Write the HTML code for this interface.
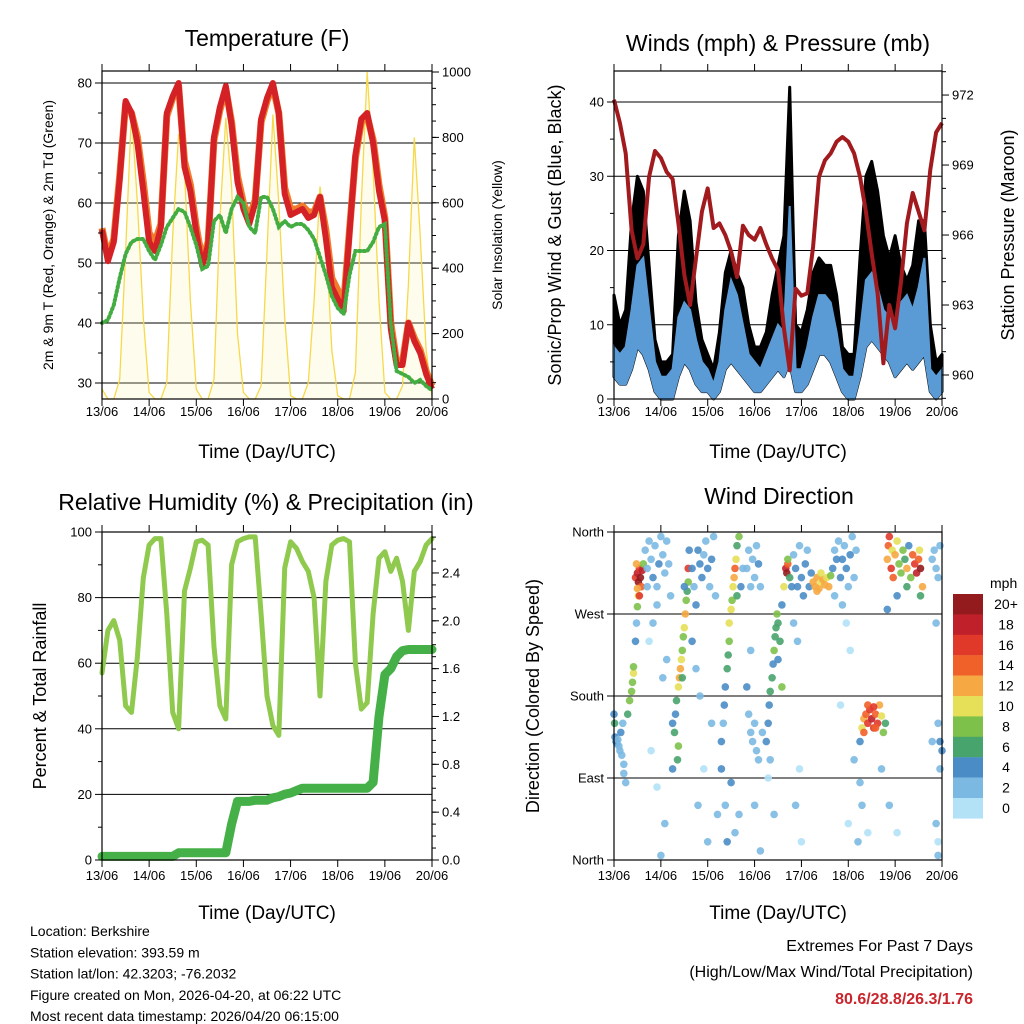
<!DOCTYPE html>
<html><head><meta charset="utf-8"><style>
body{margin:0;background:#fff;}
svg{display:block;font-family:"Liberation Sans",Arial,sans-serif;}
</style></head><body>
<svg id="c" width="1024" height="1024" viewBox="0 0 1024 1024"></svg>
<script>
// ---------- data (3-hourly, 13/06 00 UTC to 20/06 00 UTC) ----------
const dayLabels=["13/06","14/06","15/06","16/06","17/06","18/06","19/06","20/06"];
const temp2m=[55.5,50.3,53.5,64,77,75,70,62,53.5,52,56,75,77.8,80,66,62,55,49.5,53,71,76,79.5,73,63.5,59,56.5,60,74,77.5,80,75,61.5,58,58.5,59,57.5,58,61,54,46,44,42,55,68,74,75,70,62,57,39,33,33,40,37,35,31.5,29];
const temp9m=[55.8,51,54,64.5,76.5,75,71,63.5,55,53.5,56.5,74.5,77.5,79.5,67,63,56,50.5,53.5,70.5,75.5,79,73.5,64.5,60,57.5,60.5,73.5,77,79.5,75,62.5,59,59,59.5,58.5,58.5,61,55.5,47.5,45.5,43,55.5,67.5,73.5,74.5,70.5,63,57.5,40,33.5,33.5,40,37.5,35.5,32,29.5];
const dewpoint=[40,40.5,43,47.5,51.5,53.5,54,54,52,50.5,53,56,57.5,59,58.5,56,53,49,49.5,57,58,55,59,61,60,56,55,61,61,59,56,57,56,56.5,56.5,55.5,54,51,48,44.5,42.5,41.5,48,52,52,52,53.5,56,56.5,40,32,31.5,31,30,30.5,29.5,28.8];
const solar=[30,0,0,60,450,880,600,250,20,0,0,50,500,810,700,300,30,0,0,60,550,860,650,200,20,0,0,40,450,870,600,250,10,0,0,50,300,650,500,150,10,0,0,80,600,1000,700,300,20,0,0,40,350,800,500,150,10];
const windLow=[3,2,2,4,7,6,4,1,0,0,0,3,5,4,2,1,1,0,1,4,5,4,3,2,1,1,2,3,4,3,5,1,1,2,4,6,6,5,3,1,0,0,3,7,8,7,6,5,3,4,5,4,5,6,1,0,1];
const windHigh=[7,6,7,12,18,19,12,5,3,3,4,11,13,12,8,5,4,2,5,12,16,14,10,6,5,4,6,8,10,9,26,4,4,7,11,14,14,13,9,4,3,3,9,16,17,15,12,11,10,13,14,12,15,19,4,3,4];
const gust=[14,10,12,24,30,28,18,8,5,5,6,22,28,24,13,8,6,4,9,17,20,17,15,10,7,7,9,14,18,22,42,10,9,12,17,19,18,18,14,7,6,6,19,30,32,28,22,19,22,18,16,18,24,24,10,5,6];
const pressure=[971.8,970.8,969.5,966.2,965,965.6,968.5,969.6,969.3,968.7,968.4,966.5,964.3,963,965,967,968,966.3,966.5,966,965.3,964.2,966.4,966,965.8,966.3,965.6,965,964.5,962,960.2,963.7,963.4,963.5,965.5,968.5,969.2,969.5,970,970.2,970,969.5,968.5,967,965.2,963.5,960.5,963,962,964,966.5,967.8,967,966.2,968.8,970.4,970.8];
const humidity=[57,70,73,67,47,45,62,86,96,98,98,75,45,40,82,89,97,97.5,96,65,47,43,90,97,98,98.5,98.5,75,50,41,38,89,97,95,91,88,80,50,85,96,97.5,98,97,60,46,48,75,92,94,88,92,85,70,88,91,96,98];
const rainTotal=[0.03,0.03,0.03,0.03,0.03,0.03,0.03,0.03,0.03,0.03,0.03,0.03,0.03,0.06,0.06,0.06,0.06,0.06,0.06,0.06,0.06,0.06,0.3,0.49,0.49,0.49,0.5,0.5,0.5,0.52,0.53,0.55,0.56,0.58,0.6,0.6,0.6,0.6,0.6,0.6,0.6,0.6,0.6,0.6,0.6,0.6,0.65,1.2,1.55,1.6,1.7,1.75,1.76,1.76,1.76,1.76,1.76];
// wind direction obs: hour, degrees, speed
const dirObs=[[0,160,5],[0.3,150,6],[0.5,135,4],[1,130,4],[1.5,128,4],[2,132,3],[2.5,125,3],[3,120,3],[4,115,2],[5,105,2],[5,95,2],[6,85,2],[3.5,140,4],[4.5,150,3],
[7,160,7],[8,175,8],[9,185,8],[9.5,195,9],[10,205,10],[10,212,9],[11,240,4],[12,278,9],[12.5,290,10],[11.5,260,3],
[11,310,16],[12,315,18],[12.5,305,20],[13,320,16],[13.5,310,20],[14,300,14],[14.5,318,18],[12,298,12],[15,325,8],[13,290,16],[11.5,325,12],
[16,340,3],[17,320,2],[18,350,2],[19,330,3],[20,310,4],[21,345,2],[22,300,2],[23,325,4],[24,355,2],[25,335,3],[26,315,2],[27,350,2],[28,325,3],[29,290,2],[17,300,2],[22,280,2],[20,260,2],[18,240,1],[27,220,3],[25,200,2],[19,120,1],[22,80,1],[26,40,3],[24,5,2],
[31,140,6],[31.5,160,4],[32,175,6],[33,190,10],[33.5,200,12],[34,210,12],[34.5,220,10],[35,230,9],[35.5,245,8],[36,255,10],[36.5,270,12],[37,285,8],[37.5,295,6],[38,305,8],[38,320,16],[38.5,340,5],[33,125,8],[32.5,110,6],[30,150,4],[30,100,4],[36,300,5],[35,200,7],
[40,320,4],[41,300,3],[42,280,4],[43,340,4],[44,325,5],[45,310,4],[46,335,3],[47,350,3],[48,320,4],[49,300,3],[50,330,4],[51,355,2],[52,290,2],[40,240,4],[42,210,3],[44,180,2],[46,100,1],[43,60,2],[48,20,2],[50,150,3],[53,50,2],
[55,100,4],[55,130,4],[56,150,3],[56.5,170,4],[57,190,5],[58,210,6],[58.5,225,7],[59,240,8],[59,260,10],[60,275,10],[60.5,285,8],[61,300,10],[61.5,310,12],[62,320,14],[62.5,330,10],[63,345,6],[64,355,8],[63,290,6],[65,300,4],[66,320,3],[57,60,2],[58,20,4],[60,85,4],[62,30,2],[64,50,2],
[68,320,2],[69,340,3],[70,300,2],[71,330,2],[72,310,2],[73,345,2],[74,325,4],[75,300,2],[69,160,3],[70,140,2],[71,130,3],[72,150,3],[73,120,2],[68,190,4],[74,110,3],[76,140,3],[72,60,2],[75,10,2],[70,230,2],
[78,130,4],[79,150,4],[79.5,170,5],[80,185,6],[81,200,6],[81.5,215,5],[82,230,8],[82.5,245,7],[83,255,6],[83.5,270,8],[84,260,6],[85,240,6],[86,280,4],[84,220,5],[80,110,3],[86,190,8],[87,300,10],[79,90,1],[82,50,2],
[88,320,18],[88.5,315,20],[89,325,14],[89,330,8],[90,310,6],[91,300,4],
[92,335,3],[93,320,4],[94,300,4],[95,345,2],[96,310,4],[97,290,4],[98,325,5],[99,340,3],[100,300,4],[101,315,5],[92,260,3],[94,240,2],[93,60,2],[96,20,1],[95,100,1],
[102,305,12],[103,300,12],[104,310,12],[105,298,12],[106,305,10],[107,308,12],[108,302,12],[109,310,10],[110,300,12],[111,312,8],[104,295,12],[106,315,10],
[112,320,4],[113,340,3],[114,330,4],[115,350,3],[116,310,4],[117,330,5],[118,345,3],[119,320,4],[120,300,3],[121,335,4],[122,355,2],[123,310,2],[124,340,3],[113,290,2],[117,280,2],[121,230,1],[119,260,1],[116,170,1],[123,110,2],[120,40,1],[125,20,2],
[126,130,4],[127,145,10],[128,155,12],[129,160,14],[130,150,16],[131,165,16],[132,155,18],[133,145,16],[134,160,14],[135,150,16],[136,170,12],[137,158,10],[138,140,8],[139,150,6],[128,140,14],[130,170,14],[134,145,14],[133,168,16],[126,85,2],[127,60,2],[130,30,1],[137,100,2],
[140,330,12],[140.5,345,14],[141,355,16],[142,320,16],[142.5,340,10],[143,310,14],[144,335,12],[145,350,10],[146,325,8],[147,315,8],[148,340,8],[149,330,6],[150,320,12],[151,345,4],[152,310,8],[153,335,14],[154,325,16],[155,315,18],[156,330,14],[156.5,340,10],[157,320,20],[158,300,12],[157,290,6],[140,275,4],[145,290,5],[150,300,6],[141,60,2],[145,30,1],
[163,330,2],[164,340,3],[165,320,2],[166,310,3],[167,345,2],[165,260,3],[166,150,2],[167,130,4],[168,120,4],[167,100,3],[165,40,2],[166,20,1],[166,5,2],[163,130,2]];
const speedLabels=["0","2","4","6","8","10","12","14","16","18","20+"];
const speedColors=["#b3e2f7","#7cb9e2","#4a8dc6","#48a46d","#7dc14a","#e6df58","#f6a842","#ef6129","#e0392a","#c0202a","#931b1d"];

// ---------- helpers ----------
const NS="http://www.w3.org/2000/svg";
const svg=document.getElementById('c');
function mk(tag,attrs,parent){const e=document.createElementNS(NS,tag);for(const k in attrs)e.setAttribute(k,attrs[k]);(parent||svg).appendChild(e);return e;}
function txt(s,x,y,size,anchor,parent,rot){const t=mk('text',{x:x,y:y,'font-size':size,'text-anchor':anchor||'middle',fill:'#000'},parent);if(rot)t.setAttribute('transform','rotate(-90 '+x+' '+y+')');t.textContent=s;return t;}
function grp(name){const g=mk('g',{});return g;}
const HOURS=168;
function hourOf(i){return i*3;}
function lineD(arr,fx,fy){return arr.map((v,i)=>(i?'L':'M')+fx(hourOf(i)).toFixed(1)+' '+fy(v).toFixed(1)).join(' ');}

function frame(g,x0,x1,y0,y1,labelY){
  const r=mk('rect',{x:x0,y:y0,width:x1-x0,height:y1-y0,fill:'none',stroke:'#000','stroke-width':1.2},g);
  
  dayLabels.forEach((d,i)=>{const x=x0+i*(x1-x0)/7;
    mk('line',{x1:x,y1:y1,x2:x,y2:y1+7,stroke:'#000'},g);
    mk('line',{x1:x,y1:y0,x2:x,y2:y0-7,stroke:'#000'},g);
    const t=txt(d,x,labelY,13,'middle',g);});
}
function yTicks(g,vals,fy,x,side,labels,minor,size){
  vals.forEach((v,i)=>{const y=fy(v);
    mk('line',{x1:x,y1:y,x2:x+(side<0?-7:7),y2:y,stroke:'#000'},g);
    const t=txt(labels[i],x+(side<0?-10:10),y+4.5,size||13,side<0?'end':'start',g);
    });
  (minor||[]).forEach(v=>{const y=fy(v);mk('line',{x1:x,y1:y,x2:x+(side<0?-4:4),y2:y,stroke:'#000'},g);});
}
function hgrid(g,vals,fy,x0,x1){vals.forEach(v=>{const y=fy(v);mk('line',{x1:x0,y1:y,x2:x1,y2:y,stroke:'#000','stroke-width':1},g);});}
function range(a,b,s){const r=[];for(let v=a;v<=b+1e-9;v+=s)r.push(+v.toFixed(3));return r;}

// ---------- Temperature panel ----------
(function(){
  const g=grp('temperature-panel');
  const X0=102,X1=432,Y0=71,Y1=399;
  const x=h=>X0+h/HOURS*(X1-X0), y=v=>383-(v-30)*6, ys=w=>399-w*0.327;
  const t=txt('Temperature (F)',267,46,23,'middle',g);
  hgrid(g,[30,40,50,60,70,80],y,X0,X1);
  const sf=mk('path',{d:lineD(solar,x,ys)+' L'+x(168)+' 399 L'+X0+' 399 Z',fill:'#fbeea6','fill-opacity':0.2,stroke:'none'},g);
  
  const sl=mk('path',{d:lineD(solar,x,ys),fill:'none',stroke:'#f6d94a','stroke-width':1.3},g);
  
  const o=mk('path',{d:lineD(temp9m,x,y),fill:'none',stroke:'#f07b2c','stroke-width':7,'stroke-linejoin':'round'},g);
  
  const r=mk('path',{d:lineD(temp2m,x,y),fill:'none',stroke:'#d42126','stroke-width':6,'stroke-linejoin':'round'},g);
  
  const d=mk('path',{d:lineD(dewpoint,x,y),fill:'none',stroke:'#43ad41','stroke-width':4,'stroke-dasharray':'1.5 3','stroke-linecap':'round'},g);
  
  frame(g,X0,X1,Y0,Y1,416);
  yTicks(g,[30,40,50,60,70,80],y,X0,-1,['30','40','50','60','70','80'],[35,45,55,65,75]);
  yTicks(g,[0,200,400,600,800,1000],ys,X1,1,['0','200','400','600','800','1000'],range(50,950,50));
  const a=txt('2m & 9m T (Red, Orange) & 2m Td (Green)',53,235,14,'middle',g,true);
  const b=txt('Solar Insolation (Yellow)',502,235,14,'middle',g,true);
  const c=txt('Time (Day/UTC)',267,458,19,'middle',g);
})();

// ---------- Winds panel ----------
(function(){
  const g=grp('winds-panel');
  const X0=614,X1=942,Y0=71,Y1=399;
  const x=h=>X0+h/HOURS*(X1-X0), y=v=>399-v*7.425, yp=p=>375-(p-960)*23.33;
  const t=txt('Winds (mph) & Pressure (mb)',778,51,23,'middle',g);
  hgrid(g,[10,20,30,40],y,X0,X1);
  const band=(lo,hi)=>{let s='';hi.forEach((v,i)=>{s+=(i?'L':'M')+x(hourOf(i)).toFixed(1)+' '+y(v).toFixed(1)+' ';});for(let i=lo.length-1;i>=0;i--)s+='L'+x(hourOf(i)).toFixed(1)+' '+y(lo[i]).toFixed(1)+' ';return s+'Z';};
  const gb=mk('path',{d:band(windLow,gust),fill:'#000',stroke:'#000','stroke-width':3,'stroke-linejoin':'round'},g);
  
  const wb=mk('path',{d:band(windLow,windHigh),fill:'#5b9bd5',stroke:'#5b9bd5','stroke-width':2},g);
  
  const p=mk('path',{d:lineD(pressure,x,yp),fill:'none',stroke:'#a11a1e','stroke-width':4,'stroke-linejoin':'round'},g);
  
  frame(g,X0,X1,Y0,Y1,416);
  yTicks(g,[0,10,20,30,40],y,X0,-1,['0','10','20','30','40'],[5,15,25,35]);
  yTicks(g,[960,963,966,969,972],yp,X1,1,['960','963','966','969','972'],[959,961,962,964,965,967,968,970,971,973]);
  const a=txt('Sonic/Prop Wind & Gust (Blue, Black)',561,235,18,'middle',g,true);
  const b=txt('Station Pressure (Maroon)',1014,235,18,'middle',g,true);
  const c=txt('Time (Day/UTC)',778,458,19,'middle',g);
})();

// ---------- RH & Precip panel ----------
(function(){
  const g=grp('humidity-panel');
  const X0=102,X1=432,Y0=532,Y1=860;
  const x=h=>X0+h/HOURS*(X1-X0), y=v=>860-v*3.28, yr=v=>860-v*119.6;
  const t=txt('Relative Humidity (%) & Precipitation (in)',266,510,23,'middle',g);
  hgrid(g,[20,40,60,80],y,X0,X1);
  const h=mk('path',{d:lineD(humidity,x,y),fill:'none',stroke:'#8fc94e','stroke-width':5,'stroke-linejoin':'round','stroke-linecap':'round'},g);
  
  const r=mk('path',{d:lineD(rainTotal,x,yr),fill:'none',stroke:'#45b047','stroke-width':9,'stroke-linejoin':'round','stroke-linecap':'round'},g);
  
  frame(g,X0,X1,Y0,Y1,880);
  yTicks(g,[0,20,40,60,80,100],y,X0,-1,['0','20','40','60','80','100'],[10,30,50,70,90]);
  yTicks(g,[0,0.4,0.8,1.2,1.6,2.0,2.4],yr,X1,1,['0.0','0.4','0.8','1.2','1.6','2.0','2.4'],range(0.1,2.7,0.1));
  const a=txt('Percent & Total Rainfall',46,696,18,'middle',g,true);
  const c=txt('Time (Day/UTC)',267,919,19,'middle',g);
})();

// ---------- Wind direction panel ----------
(function(){
  const g=grp('wind-direction-panel');
  const X0=614,X1=942,Y0=532,Y1=860;
  const x=h=>X0+h/HOURS*(X1-X0), y=d=>860-d*0.9111;
  const t=txt('Wind Direction',779,504,23,'middle',g);
  hgrid(g,[90,180,270],y,X0,X1);
  dirObs.forEach(o=>{const bin=Math.min(10,Math.floor(o[2]/2));
    const c=mk('circle',{cx:x(o[0]).toFixed(1),cy:y(o[1]).toFixed(1),r:3.8,fill:speedColors[bin],'fill-opacity':0.9},g);
    
    });
  frame(g,X0,X1,Y0,Y1,880);
  yTicks(g,[0,90,180,270,360],y,X0,-1,['North','East','South','West','North'],[],13);
  const a=txt('Direction (Colored By Speed)',539,696,18,'middle',g,true);
  const c=txt('Time (Day/UTC)',778,919,19,'middle',g);
  const lg=grp('speed-legend');
  const m=txt('mph',990,588,14,'start',lg);
  speedLabels.forEach((s,i)=>{const k=10-i;const yy=594+i*20.4;
    const r=mk('rect',{x:953,y:yy,width:30,height:20.6,fill:speedColors[k]},lg);
    
    const l=txt(speedLabels[k],1006,yy+15,14,'middle',lg);});
})();

// ---------- footer ----------
(function(){
  const g=grp('station-info');
  ['Location: Berkshire','Station elevation: 393.59 m','Station lat/lon: 42.3203; -76.2032','Figure created on Mon, 2026-04-20, at 06:22 UTC','Most recent data timestamp: 2026/04/20 06:15:00'].forEach((s,i)=>{
    const t=txt(s,30,936+i*21.3,14,'start',g);});
  const e=grp('extremes-summary');
  const a=txt('Extremes For Past 7 Days',973,951,16,'end',e);
  const b=txt('(High/Low/Max Wind/Total Precipitation)',973,977,16,'end',e);
  const c=txt('80.6/28.8/26.3/1.76',973,1004,16,'end',e);c.setAttribute('fill','#c8262c');c.setAttribute('font-weight','bold');
})();
</script>
</body></html>
